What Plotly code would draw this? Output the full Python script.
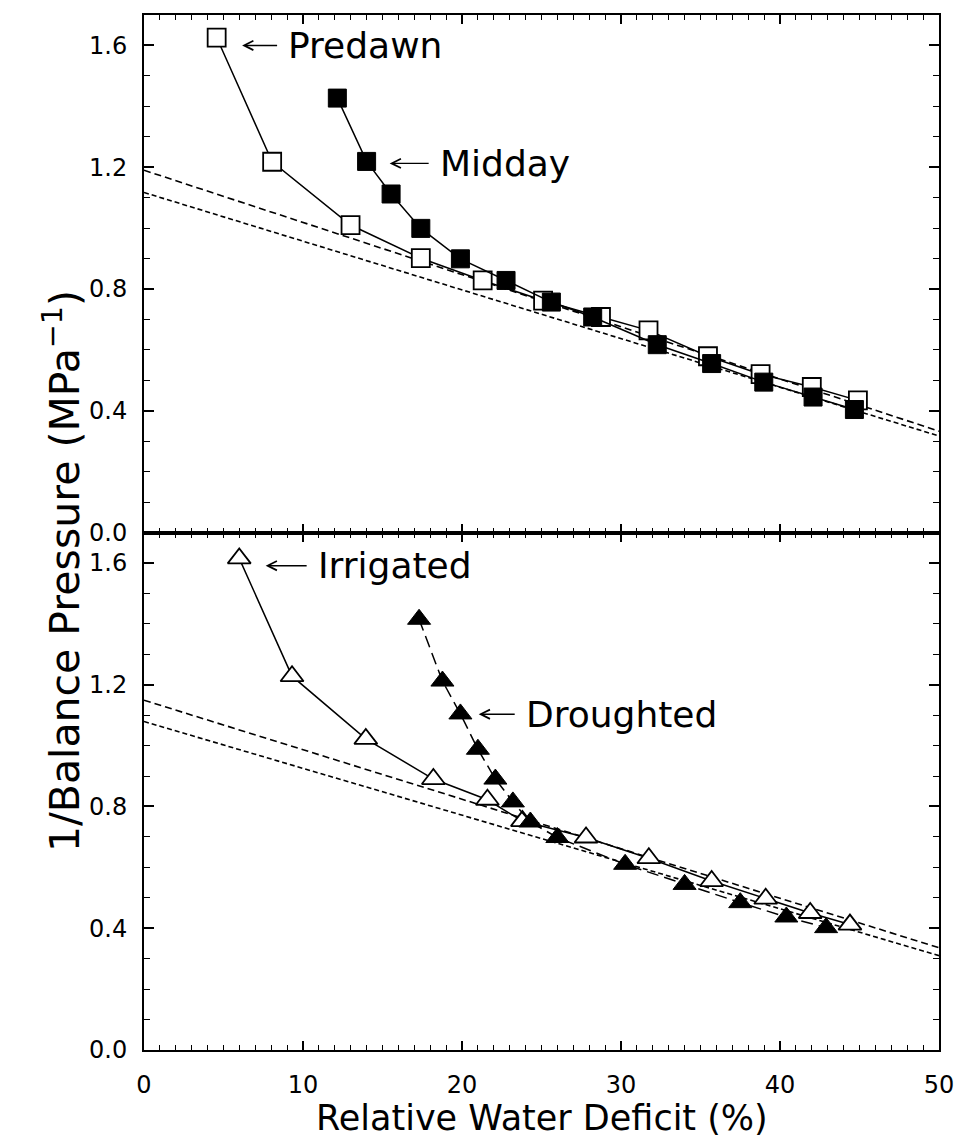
import plotly.graph_objects as go

# ---------------- data ----------------
predawn_x = [4.57, 8.06, 12.99, 17.41, 21.3, 25.1, 28.74, 31.73, 35.47, 38.78, 42.0, 44.9]
predawn_y = [1.626, 1.218, 1.010, 0.901, 0.828, 0.762, 0.708, 0.664, 0.579, 0.520, 0.478, 0.434]

midday_x = [12.16, 14.0, 15.54, 17.41, 19.9, 22.77, 25.62, 28.22, 32.28, 35.7, 38.98, 42.08, 44.68]
midday_y = [1.427, 1.219, 1.112, 0.999, 0.899, 0.828, 0.757, 0.708, 0.617, 0.555, 0.494, 0.445, 0.404]

irrigated_x = [5.99, 9.31, 13.95, 18.2, 21.6, 23.8, 27.8, 31.75, 35.7, 39.1, 41.9, 44.4]
irrigated_y = [1.615, 1.228, 1.022, 0.890, 0.822, 0.752, 0.698, 0.630, 0.555, 0.497, 0.450, 0.412]

droughted_x = [17.3, 18.77, 19.9, 21.0, 22.1, 23.2, 24.3, 26.0, 30.26, 34.0, 37.5, 40.4, 42.9]
droughted_y = [1.415, 1.212, 1.104, 0.988, 0.890, 0.815, 0.749, 0.698, 0.610, 0.544, 0.484, 0.437, 0.402]

fit_x = [0, 50]
top_fit_a = [1.19, 0.333]
top_fit_b = [1.117, 0.317]
bot_fit_a = [1.149, 0.336]
bot_fit_b = [1.079, 0.310]

x_ticks = [0, 10, 20, 30, 40, 50]
y_ticks = [0.0, 0.4, 0.8, 1.2, 1.6]

FONT = "DejaVu Sans"
BLACK = "black"

fig = go.Figure()

# ---------- top panel ----------
fig.add_trace(go.Scatter(x=fit_x, y=top_fit_a, mode="lines", xaxis="x2", yaxis="y2",
                         line=dict(color=BLACK, width=1.6, dash="7px,4px"), showlegend=False))
fig.add_trace(go.Scatter(x=fit_x, y=top_fit_b, mode="lines", xaxis="x2", yaxis="y2",
                         line=dict(color=BLACK, width=1.6, dash="5px,3px"), showlegend=False))
fig.add_trace(go.Scatter(x=predawn_x, y=predawn_y, mode="lines+markers", xaxis="x2", yaxis="y2",
                         line=dict(color=BLACK, width=1.5),
                         marker=dict(symbol="square", size=18, color="white",
                                     line=dict(color=BLACK, width=1.8)),
                         showlegend=False))
fig.add_trace(go.Scatter(x=midday_x, y=midday_y, mode="lines+markers", xaxis="x2", yaxis="y2",
                         line=dict(color=BLACK, width=1.5),
                         marker=dict(symbol="square", size=18, color=BLACK,
                                     line=dict(color=BLACK, width=1)),
                         showlegend=False))

# ---------- bottom panel ----------
fig.add_trace(go.Scatter(x=fit_x, y=bot_fit_a, mode="lines", xaxis="x", yaxis="y",
                         line=dict(color=BLACK, width=1.6, dash="7px,4px"), showlegend=False))
fig.add_trace(go.Scatter(x=fit_x, y=bot_fit_b, mode="lines", xaxis="x", yaxis="y",
                         line=dict(color=BLACK, width=1.6, dash="5px,3px"), showlegend=False))
fig.add_trace(go.Scatter(x=irrigated_x, y=irrigated_y, mode="lines+markers", xaxis="x", yaxis="y",
                         line=dict(color=BLACK, width=1.5),
                         marker=dict(symbol="triangle-up", size=20, color="white",
                                     line=dict(color=BLACK, width=1.8)),
                         showlegend=False))
fig.add_trace(go.Scatter(x=droughted_x, y=droughted_y, mode="lines+markers", xaxis="x", yaxis="y",
                         line=dict(color=BLACK, width=1.5, dash="12px,6px"),
                         marker=dict(symbol="triangle-up", size=20, color=BLACK,
                                     line=dict(color=BLACK, width=1)),
                         showlegend=False))

axis_common = dict(
    showline=True, linecolor=BLACK, linewidth=2, mirror="allticks",
    ticks="inside", tickcolor=BLACK, tickwidth=1.5, showgrid=False, zeroline=False,
    tickfont=dict(family=FONT, size=24, color=BLACK),
)

xax = dict(axis_common, range=[0, 50], tickvals=x_ticks, ticklen=9,
           minor=dict(dtick=1, ticks="inside", ticklen=5, tickcolor=BLACK, tickwidth=1.2, showgrid=False),
           ticklabelstandoff=12)
yax = dict(axis_common, range=[0, 1.7], tickvals=y_ticks, tickformat=".1f", ticklen=10,
           minor=dict(dtick=0.1, tick0=0, ticks="inside", ticklen=6, tickcolor=BLACK, tickwidth=1.2, showgrid=False),
           ticklabelstandoff=10)

fig.update_layout(
    width=966, height=1139,
    margin=dict(l=144, r=21, t=15, b=89),
    paper_bgcolor="white", plot_bgcolor="white",
    xaxis=dict(xax, domain=[0, 1], anchor="y"),
    yaxis=dict(yax, domain=[0, 0.5], anchor="x"),
    xaxis2=dict(xax, domain=[0, 1], anchor="y2", showticklabels=False, matches="x"),
    yaxis2=dict(yax, domain=[0.5, 1], anchor="x2"),
    font=dict(family=FONT, color=BLACK),
)

# axis titles
fig.add_annotation(text="Relative Water Deficit (%)", xref="paper", yref="paper",
                   x=0.5, y=-0.044, yanchor="top", showarrow=False,
                   font=dict(family=FONT, size=35, color=BLACK))
fig.add_annotation(text="1/Balance Pressure (MPa<sup>−1</sup>)", xref="paper", yref="paper",
                   x=-0.104, y=0.463, textangle=-90, xanchor="center", yanchor="middle",
                   showarrow=False, font=dict(family=FONT, size=41, color=BLACK))

# series labels with arrows
labels = [
    ("Predawn", "x2", "y2", 6.17, 1.60, 44),
    ("Midday", "x2", "y2", 15.45, 1.2125, 48),
    ("Irrigated", "x", "y", 7.65, 1.591, 50),
    ("Droughted", "x", "y", 21.05, 1.103, 45),
]
for txt, xr, yr, xv, yv, off in labels:
    fig.add_annotation(text=txt, xref=xr, yref=yr, x=xv, y=yv, ax=off, ay=0,
                       xanchor="left", yanchor="middle", showarrow=True,
                       arrowhead=5, arrowsize=1.3, arrowwidth=1.4, arrowcolor=BLACK,
                       startstandoff=9, standoff=0,
                       font=dict(family=FONT, size=36, color=BLACK))

fig.write_html("out.html")
